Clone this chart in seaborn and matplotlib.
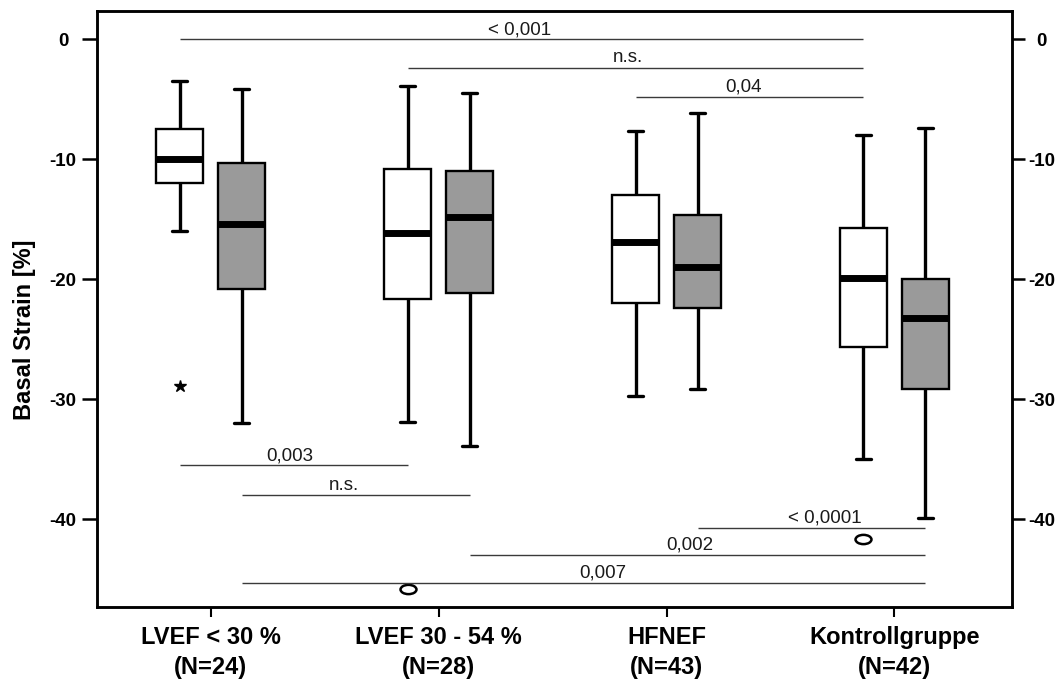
import pandas as pd
import matplotlib.pyplot as plt
from matplotlib.path import Path
from matplotlib.transforms import Affine2D
import seaborn as sns

sns.set_style("ticks")
plt.rcParams['font.family'] = ['Liberation Sans', 'DejaVu Sans']
plt.rcParams['axes.unicode_minus'] = False

# ==================== Daten ====================
GROUPS = ["LVEF < 30 %\n(N=24)", "LVEF 30 - 54 %\n(N=28)",
          "HFNEF\n(N=43)", "Kontrollgruppe\n(N=42)"]
SERIES = ["Messung 1", "Messung 2"]

# Fünf-Punkte-Zusammenfassung je Box (Whisker unten, Q1, Median, Q3, Whisker oben)
white_lo = [-16.0, -31.9, -29.7, -35.0]
white_q1 = [-12.0, -21.65, -22.0, -25.65]
white_med = [-10.0, -16.1, -16.9, -19.9]
white_q3 = [-7.5, -10.8, -13.0, -15.7]
white_hi = [-3.5, -3.9, -7.6, -8.0]

gray_lo = [-32.0, -33.9, -29.15, -39.9]
gray_q1 = [-20.8, -21.1, -22.4, -29.1]
gray_med = [-15.4, -14.8, -19.0, -23.2]
gray_q3 = [-10.3, -11.0, -14.6, -20.0]
gray_hi = [-4.1, -4.46, -6.1, -7.35]

# Ausreißer (Gruppe, Serie, Wert, Art)
out_group = [0, 1, 3]
out_series = [0, 0, 0]
out_value = [-28.9, -45.8, -41.6]
out_kind = ["extrem", "ausreisser", "ausreisser"]

# Signifikanzlinien
sig_labels = ["< 0,001", "n.s.", "0,04", "0,003", "n.s.", "< 0,0001", "0,002", "0,007"]
sig_y = [0.0, -2.35, -4.8, -35.5, -38.0, -40.7, -42.96, -45.3]
sig_start = [(0, 0), (1, 0), (2, 0), (0, 0), (0, 1), (2, 1), (1, 1), (0, 1)]
sig_end = [(3, 0), (3, 0), (3, 0), (1, 0), (1, 1), (3, 1), (3, 1), (3, 1)]
sig_label_x = [1.357, 1.831, 2.336, 0.349, 0.586, 2.695, 2.103, 1.721]

YTICKS = [0, -10, -20, -30, -40]

# ==================== Layout ====================
WIDTH = 0.544
GAP = 0.24
HUE_OFF = [-WIDTH / 4, WIDTH / 4]
CAP_HALF = 0.033
CAP_LW = 2.4

rows = []
for s, stats in zip(SERIES, [(white_lo, white_q1, white_med, white_q3, white_hi),
                             (gray_lo, gray_q1, gray_med, gray_q3, gray_hi)]):
    for gi, g in enumerate(GROUPS):
        for arr in stats:
            rows.append({"Gruppe": g, "Serie": s, "Strain": arr[gi]})
df = pd.DataFrame(rows)

fig = plt.figure(figsize=(10.58, 6.79), dpi=100)
ax = fig.add_axes([0.0914, 0.1065, 0.8654, 0.8773])

sns.boxplot(data=df, x="Gruppe", y="Strain", hue="Serie",
            palette=["white", "#9a9a9a"], linecolor="black", linewidth=1.7,
            width=WIDTH, gap=GAP, whis=(0, 100), showfliers=False, legend=False,
            medianprops={"linewidth": 5},
            whiskerprops={"linewidth": 2.4},
            capprops={"linewidth": CAP_LW},
            ax=ax)

# Whisker-Kappen schmaler machen
for ln in list(ax.lines):
    xd, yd = ln.get_xdata(), ln.get_ydata()
    if len(xd) == 2 and yd[0] == yd[1] and abs(ln.get_linewidth() - CAP_LW) < 1e-6:
        cx = (xd[0] + xd[1]) / 2
        ln.set_xdata([cx - CAP_HALF, cx + CAP_HALF])

# Ausreißer
ellipse = Path.unit_circle().transformed(Affine2D().scale(1.0, 0.58))
for g, s, v, k in zip(out_group, out_series, out_value, out_kind):
    x = g + HUE_OFF[s]
    if k == "extrem":
        ax.plot([x], [v], marker="*", markersize=9, color="black", linestyle="none")
    else:
        ax.plot([x], [v], marker=ellipse, markersize=11.5, markerfacecolor="white",
                markeredgecolor="black", markeredgewidth=1.8, linestyle="none")

# Signifikanzlinien
for lab, y, st, en, lx in zip(sig_labels, sig_y, sig_start, sig_end, sig_label_x):
    x0 = st[0] + HUE_OFF[st[1]]
    x1 = en[0] + HUE_OFF[en[1]]
    ax.hlines(y, x0, x1, color="#3a3a3a", linewidth=1.0)
    ax.text(lx, y + 0.45, lab, ha="center", va="baseline", fontsize=13.5, color="#1a1a1a")

ax.set_xlim(-0.5, 3.517)
ax.set_ylim(-47.27, 2.375)

# Achsen
ax.set_xlabel("")
ax.set_ylabel("Basal Strain [%]", fontsize=17, fontweight="bold", color="black")
ax.yaxis.set_label_coords(-0.066, 0.4645)
ax.set_yticks(YTICKS)
ax.set_yticklabels([str(t) for t in YTICKS], fontsize=13.5, fontweight="bold")
plt.setp(ax.get_yticklabels(), ha="center")
ax.tick_params(axis="y", length=10.8, width=1.8, pad=13.5, color="black", labelcolor="black")
ax.tick_params(axis="x", length=7, width=1.5, pad=7, color="black", labelcolor="black")
for lab in ax.get_xticklabels():
    lab.set_fontsize(17)
    lab.set_fontweight("bold")
    lab.set_linespacing(1.4)

ax2 = ax.twinx()
ax2.set_ylim(ax.get_ylim())
ax2.set_yticks(YTICKS)
ax2.set_yticklabels([str(t) for t in YTICKS], fontsize=13.5, fontweight="bold")
plt.setp(ax2.get_yticklabels(), ha="center")
ax2.tick_params(axis="y", length=9.4, width=1.8, pad=11.7, color="black", labelcolor="black")

for a in (ax, ax2):
    for sp in a.spines.values():
        sp.set_visible(True)
        sp.set_linewidth(1.8)
        sp.set_color("black")

plt.savefig("out.png", dpi=100)
plt.close()
